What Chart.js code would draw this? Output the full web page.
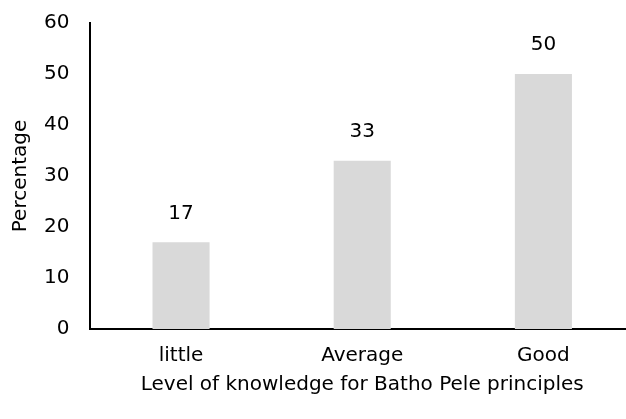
<!DOCTYPE html>
<html>
<head>
<meta charset="utf-8">
<script src="https://cdn.jsdelivr.net/npm/chart.js@4"></script>
<style>
  body { margin: 0; overflow: hidden; background: #fff; }
  #wrap { width: 634px; height: 419px; }
</style>
</head>
<body>
<div id="wrap"><canvas id="myChart"></canvas></div>
<script>
var categories = ["little", "Average", "Good"];
var percentages = [17, 33, 50];
var yTicks = [0, 10, 20, 30, 40, 50, 60];

var fontFamily = "'DejaVu Sans', sans-serif";

// draws the value above each bar
var valueLabels = {
  id: "valueLabels",
  afterDatasetsDraw: function (chart) {
    var ctx = chart.ctx;
    var meta = chart.getDatasetMeta(0);
    ctx.save();
    ctx.font = "20px " + fontFamily;
    ctx.fillStyle = "#000";
    ctx.textAlign = "center";
    ctx.textBaseline = "middle";
    meta.data.forEach(function (bar, i) {
      ctx.fillText(percentages[i], bar.x, bar.y - 29);
    });
    ctx.restore();
  }
};

new Chart("myChart", {
  type: "bar",
  data: {
    labels: categories,
    datasets: [{
      data: percentages,
      backgroundColor: "#d9d9d9",
      barPercentage: 1,
      categoryPercentage: 0.315
    }]
  },
  plugins: [valueLabels],
  options: {
    responsive: true,
    maintainAspectRatio: false,
    animation: false,
    layout: { padding: { top: 0, left: 11, right: 0, bottom: 24 } },
    plugins: {
      legend: { display: false },
      tooltip: { enabled: false }
    },
    scales: {
      x: {
        grid: { display: false },
        border: { color: "#000", width: 2 },
        ticks: { color: "#000", font: { size: 20, family: fontFamily, lineHeight: 1 }, padding: 9 },
        title: {
          display: true,
          text: "Level of knowledge for Batho Pele principles",
          color: "#000",
          font: { size: 20, family: fontFamily, lineHeight: 1 },
          padding: { top: 0, bottom: 0 }
        }
      },
      y: {
        min: 0,
        max: 60,
        afterBuildTicks: function (axis) {
          axis.ticks = yTicks.map(function (v) { return { value: v }; });
        },
        grid: { display: false },
        border: { color: "#000", width: 2 },
        ticks: { color: "#000", font: { size: 20, family: fontFamily, lineHeight: 1 }, padding: 13 },
        title: {
          display: true,
          text: "Percentage",
          color: "#000",
          font: { size: 20, family: fontFamily, lineHeight: 1 },
          padding: { top: 0, bottom: 0 }
        }
      }
    }
  }
});
</script>
</body>
</html>
